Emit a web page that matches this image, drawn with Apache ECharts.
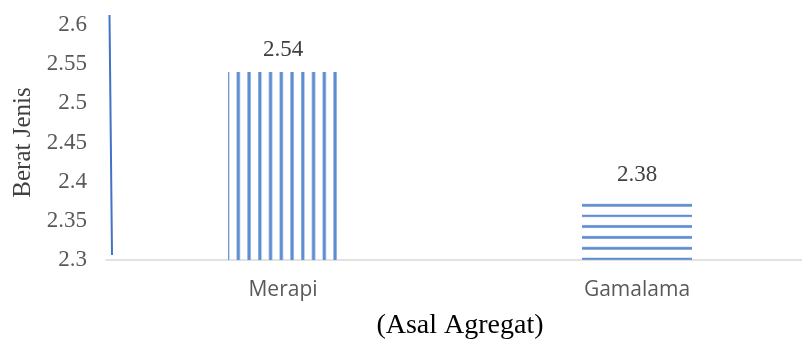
<!DOCTYPE html>
<html>
<head>
<meta charset="utf-8">
<script src="https://cdn.jsdelivr.net/npm/echarts@6/dist/echarts.min.js"></script>
<style>
  html, body { margin: 0; padding: 0; background: #fff; }
  #chart { width: 802px; height: 347px; }
</style>
</head>
<body>
<div id="chart"></div>
<script>
'use strict';

var categories = ['Merapi', 'Gamalama'];
var values = [2.54, 2.38];
var yMin = 2.3, yMax = 2.6, yStep = 0.05;

// striped fills, drawn on small canvases and repeated
function stripePattern(vertical) {
    var c = document.createElement('canvas');
    var ctx = c.getContext('2d');
    var period = vertical ? 10.75 : 10.9;
    var n = 4;
    var len = period * n;
    c.width = vertical ? len : 4;
    c.height = vertical ? 4 : len;
    var start = vertical ? 1.8 : 0.6;
    for (var k = 0; k < n; k++) {
        var p = start + k * period;
        ctx.fillStyle = '#a9c2e6';
        if (vertical) ctx.fillRect(p - 2, 0, 4, c.height);
        else ctx.fillRect(0, p - 1.6, c.width, 3.2);
        ctx.fillStyle = '#5e8dd0';
        if (vertical) ctx.fillRect(p - 1.2, 0, 2.4, c.height);
        else ctx.fillRect(0, p - 1.1, c.width, 2.2);
    }
    // wrap the first stripe so the pattern tiles cleanly
    if (!vertical) {
        ctx.fillStyle = '#a9c2e6';
        ctx.fillRect(0, len + start - 1.6, c.width, 3.2);
        ctx.fillStyle = '#5e8dd0';
        ctx.fillRect(0, len + start - 1.1, c.width, 2.2);
    }
    return { image: c, repeat: 'repeat' };
}

var chart = echarts.init(document.getElementById('chart'));

var option = {
    animation: false,
    grid: { left: 106, top: 25, bottom: 87, width: 708, containLabel: false, outerBoundsMode: 'none' },
    xAxis: {
        type: 'category',
        data: categories,
        name: '(Asal Agregat)',
        nameLocation: 'middle',
        nameGap: 52,
        nameTextStyle: { fontFamily: 'Liberation Serif', fontSize: 28, color: '#000' },
        axisLine: { lineStyle: { color: '#d9d9d9', width: 1.5 } },
        axisTick: { show: false },
        axisLabel: { fontFamily: 'Open Sans', fontSize: 21, color: '#595959', margin: 20 }
    },
    yAxis: {
        type: 'value',
        min: yMin,
        max: yMax,
        interval: yStep,
        name: 'Berat Jenis',
        nameLocation: 'middle',
        nameGap: 70,
        nameTextStyle: { fontFamily: 'Liberation Serif', fontSize: 25, color: '#404040' },
        axisLine: { show: false },
        axisTick: { show: false },
        splitLine: { show: false },
        axisLabel: { fontFamily: 'Liberation Serif', fontSize: 23, color: '#595959', margin: 19 }
    },
    series: [{
        type: 'bar',
        barWidth: 110,
        data: [
            { value: values[0], itemStyle: { color: stripePattern(true) } },
            { value: values[1], itemStyle: { color: stripePattern(false) } }
        ],
        label: {
            show: true,
            position: 'top',
            distance: 11,
            fontFamily: 'Liberation Serif',
            fontSize: 23,
            color: '#404040'
        }
    }],
    graphic: [{
        type: 'line',
        shape: { x1: 109.5, y1: 15, x2: 112, y2: 255 },
        style: { stroke: '#4472c4', lineWidth: 2 }
    }]
};

chart.setOption(option);
</script>
</body>
</html>
